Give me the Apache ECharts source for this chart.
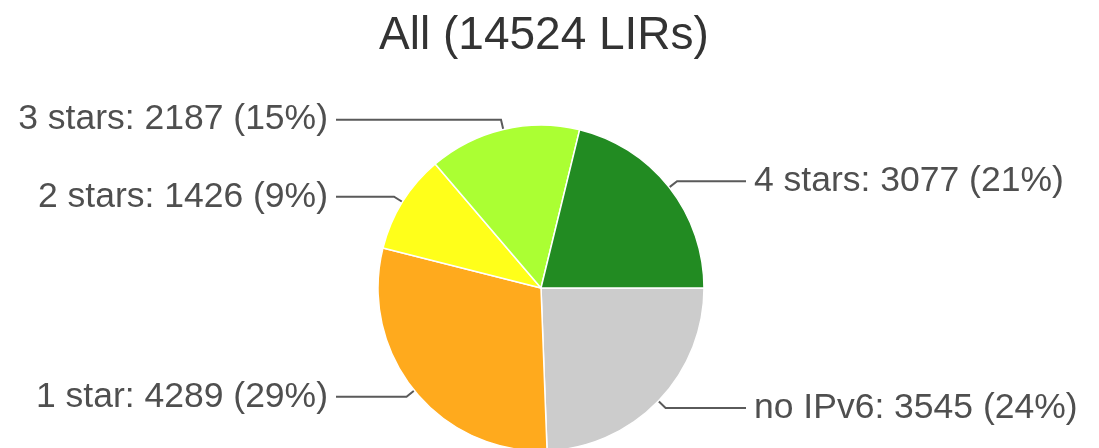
<!DOCTYPE html>
<html>
<head>
    <meta charset="utf-8">
    <title>All (14524 LIRs)</title>
    <script src="https://cdn.jsdelivr.net/npm/echarts@6/dist/echarts.min.js"></script>
    <style>
        html, body {
            margin: 0;
            width: 100%;
            height: 100%;
            background: #ffffff;
        }

        #main {
            width: 1099px;
            height: 448px;
        }
    </style>
</head>
<body>
<div id="main"></div>
<script type="text/javascript">
    var myChart = echarts.init(document.getElementById('main'));

    // data, clockwise from 3 o'clock
    const titleText = 'All (14524 LIRs)';
    const names = ['no IPv6', '1 star', '2 stars', '3 stars', '4 stars'];
    const values = [3545, 4289, 1426, 2187, 3077];
    const colors = ['#cccccc', '#ffaa1d', '#ffff1a', '#abff33', '#228b22'];

    const total = values.reduce((a, b) => a + b, 0);
    const fontFamily = 'Arial, "Liberation Sans", Helvetica, sans-serif';

    // pie geometry and where the leader lines should end on each side
    const cx = 541, cy = 288, radius = 163, lineLen = 10;
    const leftEnd = 336, rightEnd = 746;

    let acc = 0;
    const pieData = names.map((name, i) => {
        const mid = (acc + values[i] / 2) / total * 2 * Math.PI;
        acc += values[i];
        const x2 = cx + (radius + lineLen) * Math.cos(mid);
        const len2 = Math.cos(mid) > 0 ? rightEnd - x2 : x2 - leftEnd;
        return {
            name: name,
            value: values[i],
            itemStyle: {color: colors[i]},
            labelLine: {length2: Math.max(4, len2)}
        };
    });

    var option = {
        animation: false,
        backgroundColor: '#ffffff',
        title: {
            text: titleText,
            left: 539,
            top: 8,
            textAlign: 'center',
            textStyle: {
                fontFamily: fontFamily,
                fontSize: 46,
                fontWeight: 'normal',
                color: '#333333'
            }
        },
        series: [
            {
                type: 'pie',
                center: [cx, cy],
                radius: radius,
                startAngle: 0,
                clockwise: true,
                avoidLabelOverlap: true,
                silent: true,
                itemStyle: {
                    borderColor: '#ffffff',
                    borderWidth: 1.5
                },
                label: {
                    show: true,
                    position: 'outside',
                    alignTo: 'none',
                    bleedMargin: 0,
                    distanceToLabelLine: 8,
                    overflow: 'none',
                    fontFamily: fontFamily,
                    fontSize: 35.5,
                    color: '#4f4f4f',
                    formatter: function (p) {
                        return p.name + ': ' + p.value + ' (' + Math.floor(p.value / total * 100) + '%)';
                    }
                },
                labelLine: {
                    show: true,
                    length: lineLen,
                    lineStyle: {
                        color: '#5a5a5a',
                        width: 2
                    }
                },
                emphasis: {disabled: true},
                data: pieData
            }
        ]
    };

    myChart.setOption(option);
</script>
</body>
</html>
